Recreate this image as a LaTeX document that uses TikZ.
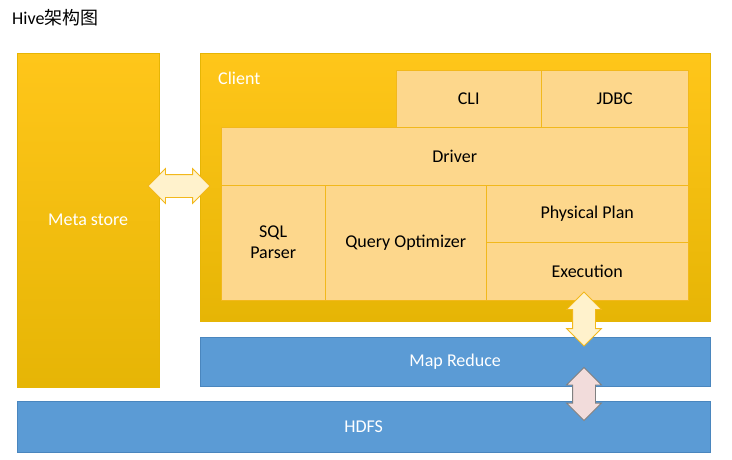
\documentclass[tikz,border=0pt]{standalone}
\usepackage{fontspec}
\setmainfont{Carlito}
\newfontfamily\cjk{Noto Sans CJK SC}
\usetikzlibrary{shapes.arrows, positioning}
\definecolor{goldtop}{HTML}{FFC61A}
\definecolor{goldbot}{HTML}{E6B505}
\definecolor{cellfill}{HTML}{FDD78C}
\definecolor{celledge}{HTML}{F2B81C}
\definecolor{hiveblue}{HTML}{5B9BD5}
\definecolor{blueedge}{HTML}{4A86BE}
\definecolor{cream}{HTML}{FFF2CC}
\definecolor{rosy}{HTML}{F2DCDB}
\tikzset{
  box/.style = {anchor=north west, inner sep=0pt, font=\fontsize{18}{21}\selectfont},
  gold/.style = {box, top color=goldtop, bottom color=goldbot, draw=goldbot, text=white},
  cell/.style = {box, fill=cellfill, draw=celledge, align=center},
  layer/.style = {box, fill=hiveblue, draw=blueedge, text=white},
  twoway/.style = {double arrow, draw=#1, line width=0.8pt, fill=cream,
    double arrow head extend=6pt, inner sep=11pt},
}
\begin{document}
\begin{tikzpicture}[x=1pt, y=-1pt]
\useasboundingbox (0,0) rectangle (732,459);
\node [anchor=west, inner sep=0pt, font=\fontsize{18}{21}\selectfont] (title) at (12,18) {Hive{\cjk 架构图}};

\node (meta) [gold, minimum width=142pt, minimum height=334pt] at (17,53) {Meta store};
\node (client) [gold, minimum width=510pt, minimum height=268pt] at (200,53) {};
\node (clientlbl) [box, text=white, anchor=west] at (218,78) {Client};

\node (cli) [cell, minimum width=145pt, minimum height=57pt] at (396,70) {CLI};
\node (jdbc) [cell, minimum width=147pt, minimum height=57pt] at (541,70) {JDBC};
\node (driver) [cell, minimum width=467pt, minimum height=58pt] at (221,127) {Driver};
\node (parser) [cell, minimum width=104pt, minimum height=115pt] at (221,185) {SQL\\Parser};
\node (optim) [cell, minimum width=161pt, minimum height=115pt] at (325,185) {Query Optimizer};
\node (plan) [cell, minimum width=202pt, minimum height=57pt] at (486,185) {Physical Plan};
\node (exec) [cell, minimum width=202pt, minimum height=58pt] at (486,242) {Execution};

\node (mr) [layer, minimum width=510pt, minimum height=49pt] at (200,337) {Map Reduce};
\node (hdfs) [layer, minimum width=693pt, minimum height=51pt] at (17,401) {HDFS};

% two-way block arrows
\node (metalink) [twoway=celledge, minimum height=62pt] at (179,186) {};
\node (execlink) [twoway=celledge, shape border rotate=90, minimum height=54pt] at (584,319) {};
\node (mrlink) [twoway=gray, fill=rosy, shape border rotate=90, minimum height=53pt] at (584,394) {};
\end{tikzpicture}
\end{document}
